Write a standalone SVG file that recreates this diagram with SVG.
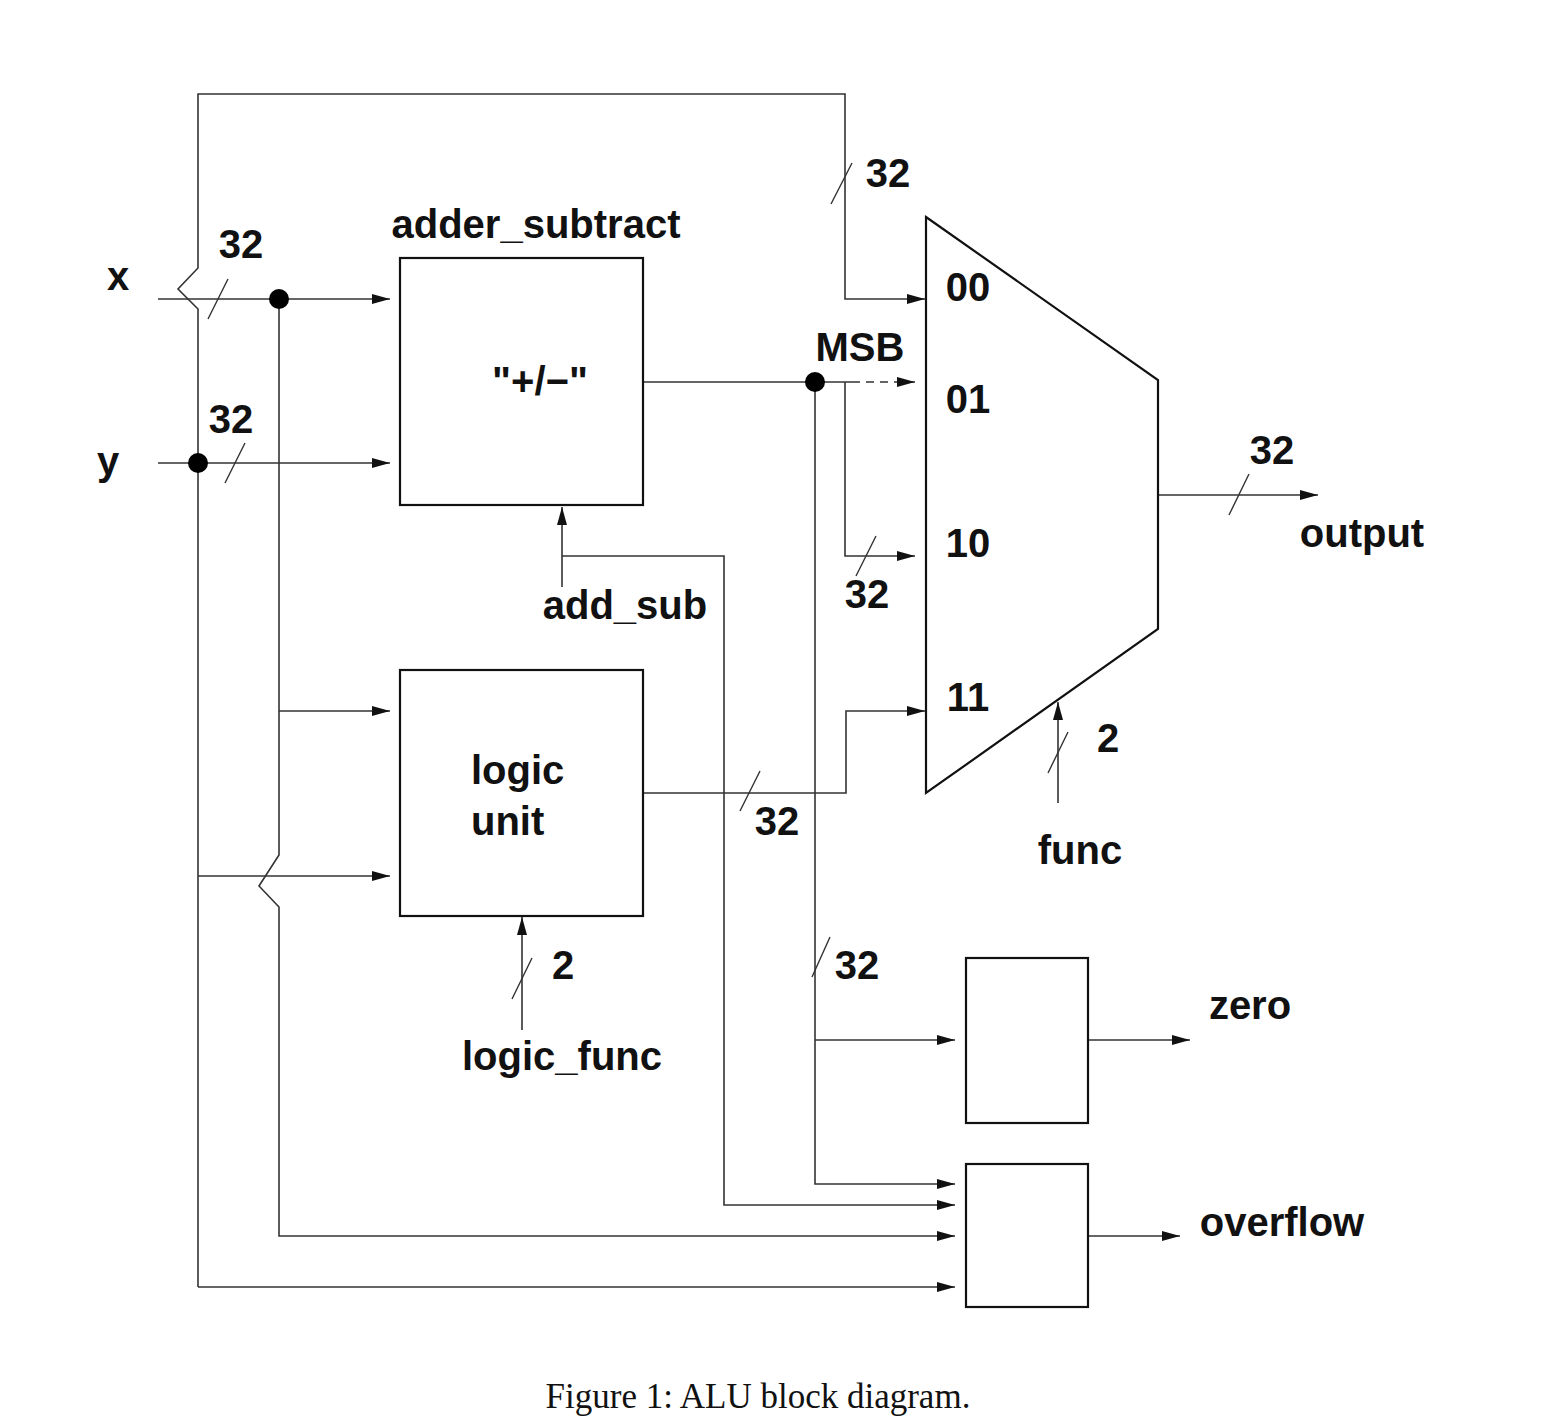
<svg xmlns="http://www.w3.org/2000/svg" width="1548" height="1424" viewBox="0 0 1548 1424">
<style>
.w{fill:none;stroke:#333;stroke-width:1.6}
.b{fill:#fff;stroke:#111;stroke-width:2.2}
.s{fill:none;stroke:#333;stroke-width:1.4}
.t{font-family:"Liberation Sans",Arial,sans-serif;font-weight:bold;font-size:40px;fill:#111}
.m{text-anchor:middle}
.cap{font-family:"Liberation Serif","Times New Roman",serif;font-size:35px;fill:#111;text-anchor:middle}
</style>
<defs>
<marker id="ah" viewBox="0 0 18 10" refX="18" refY="5" markerWidth="18" markerHeight="10" markerUnits="userSpaceOnUse" orient="auto">
<path d="M0,0 L18,5 L0,10 z" fill="#111"/>
</marker>
</defs>
<rect width="1548" height="1424" fill="#fff"/>

<g id="connectors">
<path class="w" d="M198,1287 L198,309 L178,289 L198,268 L198,94 L845,94 L845,299 L925,299" marker-end="url(#ah)"/>
<path class="w" d="M198,1287 L955,1287" marker-end="url(#ah)"/>
<path class="w" d="M158,299 L390,299" marker-end="url(#ah)"/>
<path class="w" d="M279,299 L279,855 L259,886 L279,907 L279,1236 L955,1236" marker-end="url(#ah)"/>
<path class="w" d="M279,711 L390,711" marker-end="url(#ah)"/>
<path class="w" d="M158,463 L390,463" marker-end="url(#ah)"/>
<path class="w" d="M198,876 L390,876" marker-end="url(#ah)"/>
<path class="w" d="M643,382 L852,382"/>
<path class="w" d="M852,382 L915,382" stroke-dasharray="8,6" marker-end="url(#ah)"/>
<path class="w" d="M815,382 L815,1184 L955,1184" marker-end="url(#ah)"/>
<path class="w" d="M815,1040 L955,1040" marker-end="url(#ah)"/>
<path class="w" d="M845,382 L845,556 L915,556" marker-end="url(#ah)"/>
<path class="w" d="M562,587 L562,507" marker-end="url(#ah)"/>
<path class="w" d="M562,556 L724,556 L724,1205 L955,1205" marker-end="url(#ah)"/>
<path class="w" d="M643,793 L846,793 L846,711 L925,711" marker-end="url(#ah)"/>
<path class="w" d="M522,1030 L522,917" marker-end="url(#ah)"/>
<path class="w" d="M1058,803 L1058,702" marker-end="url(#ah)"/>
<path class="w" d="M1158,495 L1318,495" marker-end="url(#ah)"/>
<path class="w" d="M1088,1040 L1190,1040" marker-end="url(#ah)"/>
<path class="w" d="M1088,1236 L1180,1236" marker-end="url(#ah)"/>
<path class="s" d="M228,279 L208,319 M245,443 L225,483 M852,163 L831,204 M876,536 L856,576 M760,771 L740,811 M830,937 L812,977 M532,958 L512,999 M1068,732 L1048,773 M1249,474 L1229,515"/>
<circle cx="279" cy="299" r="10" fill="#000"/>
<circle cx="198" cy="463" r="10" fill="#000"/>
<circle cx="815" cy="382" r="10" fill="#000"/>
</g>

<g id="adder">
<rect class="b" x="400" y="258" width="243" height="247"/>
<text class="t m" x="536" y="238">adder_subtract</text>
<text class="t m" x="540" y="395">"+/−"</text>
</g>

<g id="logic">
<rect class="b" x="400" y="670" width="243" height="246"/>
<text class="t" x="471" y="784">logic</text>
<text class="t" x="471" y="835">unit</text>
</g>

<g id="mux">
<path class="b" d="M926,217 L1158,380 L1158,629 L926,793 Z"/>
<text class="t m" x="968" y="301">00</text>
<text class="t m" x="968" y="413">01</text>
<text class="t m" x="968" y="557">10</text>
<text class="t m" x="968" y="711">11</text>
</g>

<g id="zero">
<rect class="b" x="966" y="958" width="122" height="165"/>
</g>

<g id="overflow">
<rect class="b" x="966" y="1164" width="122" height="143"/>
</g>

<g id="labels">
<text class="t m" x="118" y="290">x</text>
<text class="t m" x="108" y="475">y</text>
<text class="t m" x="241" y="258">32</text>
<text class="t m" x="231" y="433">32</text>
<text class="t m" x="888" y="187">32</text>
<text class="t m" x="860" y="361">MSB</text>
<text class="t m" x="867" y="608">32</text>
<text class="t m" x="625" y="619">add_sub</text>
<text class="t m" x="777" y="835">32</text>
<text class="t m" x="1108" y="752">2</text>
<text class="t m" x="1080" y="864">func</text>
<text class="t m" x="563" y="979">2</text>
<text class="t m" x="562" y="1070">logic_func</text>
<text class="t m" x="857" y="979">32</text>
<text class="t m" x="1250" y="1019">zero</text>
<text class="t m" x="1282" y="1236">overflow</text>
<text class="t m" x="1272" y="464">32</text>
<text class="t m" x="1362" y="547">output</text>
<text class="cap" x="758" y="1408">Figure 1: ALU block diagram.</text>
</g>
</svg>
